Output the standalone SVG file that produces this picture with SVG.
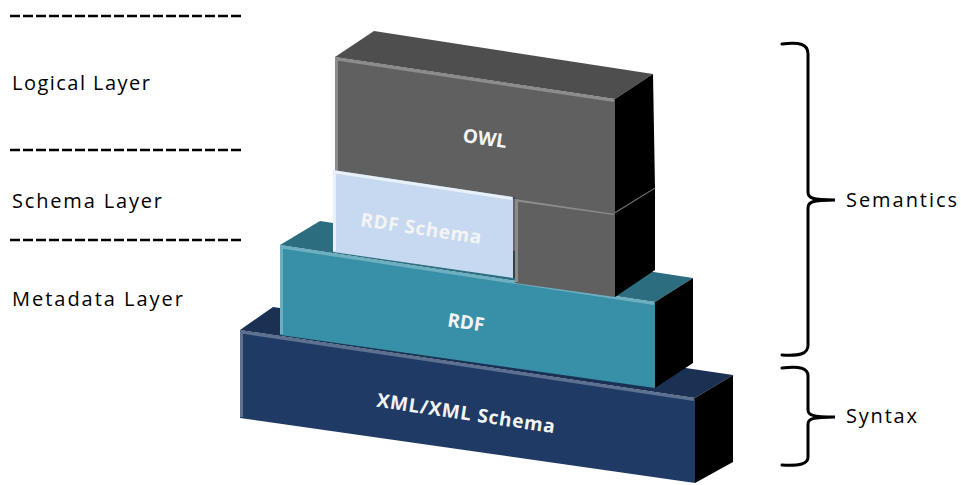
<svg xmlns="http://www.w3.org/2000/svg" width="961" height="485" viewBox="0 0 961 485">
<style>
.lbl{font-family:"Open Sans","Liberation Sans",Arial,sans-serif;font-size:20px;fill:#000}
.box{font-family:"Open Sans","Liberation Sans",Arial,sans-serif;font-size:19px;font-weight:bold;fill:#f4f4f4;text-anchor:middle}
.dash{stroke:#000;stroke-width:2.5;stroke-dasharray:10 3;fill:none}
.brace{stroke:#000;stroke-width:3;fill:none;stroke-linecap:round}
.side{fill:#000}
.hl{fill:none;stroke:#fff;stroke-opacity:0.28;stroke-width:3}
</style>
<rect width="961" height="485" fill="#fff"/>
<g id="guides">
<line class="dash" x1="10" y1="16" x2="243" y2="16"/>
<line class="dash" x1="10" y1="150" x2="243" y2="150"/>
<line class="dash" x1="10" y1="240" x2="243" y2="240"/>
<text class="lbl" x="12" y="90" textLength="138">Logical Layer</text>
<text class="lbl" x="12" y="208" textLength="150">Schema Layer</text>
<text class="lbl" x="12" y="306" textLength="171">Metadata Layer</text>
</g>
<g id="xml">
<polygon points="240,330 273,307 733,375 695,398" fill="#1a3153"/>
<polygon points="240,330 695,398 695,483 240,418" fill="#1f3b65"/>
<polyline class="hl" points="241.5,417 241.5,332 694,399.5"/>
<polygon class="side" points="695,398 733,375 733,462 695,483"/>
<text class="box" transform="rotate(8.5 466 413)" x="466" y="420" textLength="180">XML/XML Schema</text>
</g>
<g id="rdf">
<polygon points="280,245 320,221 693,278 655,302" fill="#2c6e7f"/>
<polygon points="280,245 655,302 655,388 280,335" fill="#3790a7"/>
<polyline class="hl" points="281.5,334 281.5,247 654,303.5"/>
<polygon class="side" points="655,302 693,278 693,363 655,388"/>
<text class="box" transform="rotate(8.5 466 322)" x="466" y="329">RDF</text>
</g>
<g id="owl">
<polygon points="335,57 374,31 653,74 615,99" fill="#4e4e4e"/>
<polygon points="515,198 615,212 615,297 515,283" fill="#606060"/>
<polyline class="hl" points="516.5,282 516.5,200 614,213.5"/>
<polygon class="side" points="615,212 655,188 655,270 615,297"/>
<polygon points="335,57 615,99 615,214 335,172" fill="#606060"/>
<polyline class="hl" points="336.5,171 336.5,59 614,100.5"/>
<polygon class="side" points="615,99 653,74 655,188 615,212"/>
<line x1="615" y1="213" x2="655" y2="188" stroke="#777" stroke-width="1"/>
<text class="box" transform="rotate(8.5 485 138)" x="485" y="145">OWL</text>
</g>
<g id="rdfschema">
<polygon points="333,170 513,197 513,278 333,252" fill="#c6d9f0"/>
<polyline fill="none" stroke="#fff" stroke-opacity="0.6" stroke-width="3" points="334.5,251 334.5,172 512,198.5"/>
<line x1="514" y1="197" x2="514" y2="278" stroke="#333" stroke-width="1.5"/>
<text class="box" transform="rotate(8.5 421 228)" x="421" y="235" textLength="122">RDF Schema</text>
</g>
<g id="connectors">
<path class="brace" d="M782,44 C800,42 808,44 808,54 L808,192 C808,198 812,200 835,200 C812,200 808,202 808,208 L808,345 C808,354 800,356 782,355"/>
<path class="brace" d="M782,368 C800,366 808,368 808,376 L808,410 C808,415 812,417 835,417 C812,417 808,419 808,424 L808,457 C808,464 800,466 782,465"/>
</g>
<g id="labels">
<text class="lbl" x="846" y="207" textLength="111">Semantics</text>
<text class="lbl" x="846" y="423" textLength="71">Syntax</text>
</g>
</svg>
